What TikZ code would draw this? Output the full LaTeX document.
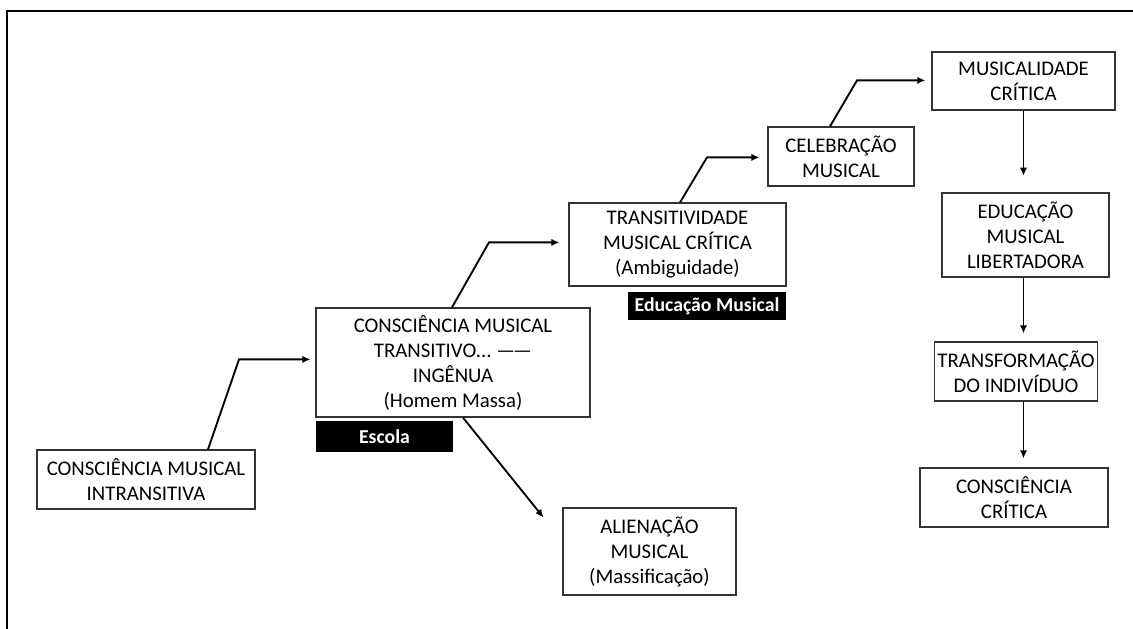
\documentclass[tikz,border=0pt]{standalone}
\usepackage{fontspec}
\setmainfont{Carlito}
\usetikzlibrary{positioning, calc, arrows.meta}

\begin{document}
\begin{tikzpicture}[x=0.75pt, y=-0.75pt]
        \tikzset{ bx/.style ={draw=black!80, line width=0.9pt, align=center, inner sep=2pt, font=\fontsize{15.6}{18.75}\selectfont} }
        \tikzset{ tag/.style={fill=black, text=white, align=center, inner sep=0pt, font=\fontsize{14.8}{17}\selectfont\bfseries} }
        \tikzset{ lnk/.style={-{Latex[length=6pt, width=5.5pt]}, line width=1.4pt} }

        \useasboundingbox (0,0) rectangle (1133,629);
        \draw[line width=1.6pt] (7,629) -- (7,11) -- (1133,11);

        \node[bx, minimum width=163.5pt, minimum height=44.25pt] (intr)   at (146   , 479.5) {CONSCIÊNCIA MUSICAL\\INTRANSITIVA};
        \node[bx, minimum width=205.5pt, minimum height=81.75pt] (ctrans) at (453   , 362.5) {CONSCIÊNCIA MUSICAL\\TRANSITIVO...\ —\kern-1.5pt—\\INGÊNUA\\(Homem Massa)};
        \node[tag, minimum width=102.75pt, minimum height=23.25pt] (escola) at (384.5, 436.5) {Escola};

        \node[bx, minimum width=162.75pt, minimum height=62.25pt] (trans) at (677.5 , 244.5) {TRANSITIVIDADE\\MUSICAL CRÍTICA\\(Ambiguidade)};
        \node[tag, minimum width=118.5pt, minimum height=21pt]    (edmus) at (707   , 306  ) {Educação Musical};

        \node[bx, minimum width=109.5pt, minimum height=44.25pt] (celeb)  at (841   , 156.5) {CELEBRAÇÃO\\MUSICAL};
        \node[bx, minimum width=137.25pt, minimum height=43.5pt] (musc)   at (1023.5,  81  ) {MUSICALIDADE\\CRÍTICA};
        \node[bx, minimum width=125.25pt, minimum height=63pt]   (edlib)  at (1025.5, 235  ) {EDUCAÇÃO\\MUSICAL\\LIBERTADORA};
        \node[bx, minimum width=118.5pt, minimum height=44.25pt] (transf) at (1016  , 371.5) {TRANSFORMAÇÃO\\DO INDIVÍDUO};
        \node[bx, minimum width=141pt, minimum height=44.25pt]   (ccrit)  at (1014  , 497.5) {CONSCIÊNCIA\\CRÍTICA};

        \node[bx, minimum width=129.75pt, minimum height=65.25pt] (alien) at (649.5 , 551.5) {ALIENAÇÃO\\MUSICAL\\(Massificação)};

        % steps up
        \draw[lnk, shorten >=3.75pt] ($(intr.north)+(62,0)$)   -- ++(31,-90) coordinate (k1) -- (k1 -| ctrans.west);
        \draw[lnk, shorten >=6.75pt] ($(ctrans.north)+(-1,0)$) -- ++(37,-65) coordinate (k2) -- (k2 -| trans.west);
        \draw[lnk, shorten >=6pt]    ($(trans.north)+(2.5,0)$) -- ++(27,-45) coordinate (k3) -- (k3 -| celeb.west);
        \draw[lnk, shorten >=4.5pt]  ($(celeb.north)+(-11,0)$) -- ++(27,-46) coordinate (k4) -- (k4 -| musc.west);

        % right column
        \draw[lnk, shorten >=12.5pt] (musc.south) -- (musc.south |- edlib.north);
        \draw[lnk, shorten >=6pt]    (edlib.south -| musc.south) -- (musc.south |- transf.north);
        \draw[lnk, shorten >=6.75pt] (transf.south -| musc.south) -- (musc.south |- ccrit.north);

        \draw[lnk] ($(ctrans.south)+(10,0)$) -- ($(alien.north west)+(-19,10)$);
\end{tikzpicture}
\end{document}
